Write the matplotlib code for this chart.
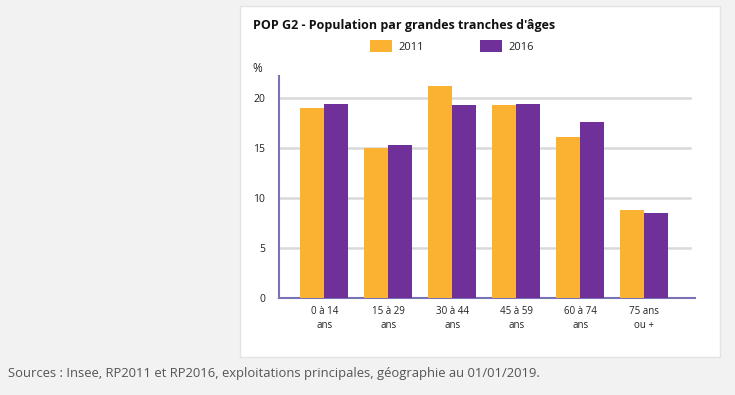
import numpy as np
import matplotlib.pyplot as plt
from matplotlib.patches import Rectangle

# Data
categories = ['0 à 14\nans', '15 à 29\nans', '30 à 44\nans', '45 à 59\nans', '60 à 74\nans', '75 ans\nou +']
values_2011 = [19.05, 15.0, 21.25, 19.35, 16.15, 8.85]
values_2016 = [19.45, 15.35, 19.35, 19.45, 17.65, 8.55]
years = ['2011', '2016']

orange = '#fbb131'
purple = '#70309a'
axis_col = '#7b72b5'

plt.rcParams['font.family'] = ['Open Sans', 'DejaVu Sans']

fig = plt.figure(figsize=(7.35, 3.95), dpi=100)
fig.patch.set_facecolor('#f2f2f2')

# white panel behind the chart
W, H = 735, 395
panel = Rectangle((240 / W, (H - 357) / H), 480 / W, 351 / H, transform=fig.transFigure,
                  facecolor='white', edgecolor='#e3e3e3', linewidth=1, zorder=-5)
fig.patches.append(panel)

ax = fig.add_axes([279 / W, (H - 298) / H, (695 - 279) / W, (298 - 76) / H])
ax.set_facecolor('none')
ax.set_zorder(2)

x = np.arange(len(categories))
w = 0.375
ax.bar(x - w / 2, values_2011, w, color=orange, zorder=3)
ax.bar(x + w / 2, values_2016, w, color=purple, zorder=3)

ax.set_xlim(-0.71, 5.79)
ax.set_ylim(0, 22.25)
ax.set_yticks([0, 5, 10, 15, 20])
ax.set_xticks(x)
ax.set_xticklabels(categories, fontsize=7, color='#222222', linespacing=1.3)
ax.tick_params(axis='y', labelsize=7.5, colors='#222222', length=0, pad=10)
ax.tick_params(axis='x', length=0, pad=6)

for yv in [5, 10, 15, 20]:
    ax.plot([-0.71, 5.71], [yv, yv], color='#d9d9d9', linewidth=1.8, zorder=1)

for side in ['top', 'right']:
    ax.spines[side].set_visible(False)
ax.spines['left'].set_color(axis_col)
ax.spines['left'].set_linewidth(1.5)
ax.spines['bottom'].set_color(axis_col)
ax.spines['bottom'].set_linewidth(1.5)

# title, legend and unit
fig.text(253 / W, 1 - 25 / H, "POP G2 - Population par grandes tranches d'âges",
         fontsize=9, fontweight='bold', color='#111111', va='center')
for xl, col, lab in [(370, orange, years[0]), (480, purple, years[1])]:
    fig.patches.append(Rectangle((xl / W, 1 - 52 / H), 22 / W, 12 / H, transform=fig.transFigure,
                                 facecolor=col, edgecolor='none'))
    fig.text((xl + 28) / W, 1 - 47 / H, lab, fontsize=8, color='#222222', va='center')
fig.text(252 / W, 1 - 68 / H, '%', fontsize=8.5, color='#222222', va='center')

fig.text(8 / W, 1 - 374 / H, 'Sources : Insee, RP2011 et RP2016, exploitations principales, géographie au 01/01/2019.',
         fontsize=9.4, color='#555555', va='center')

fig.savefig('out.png', dpi=100, facecolor=fig.get_facecolor())
